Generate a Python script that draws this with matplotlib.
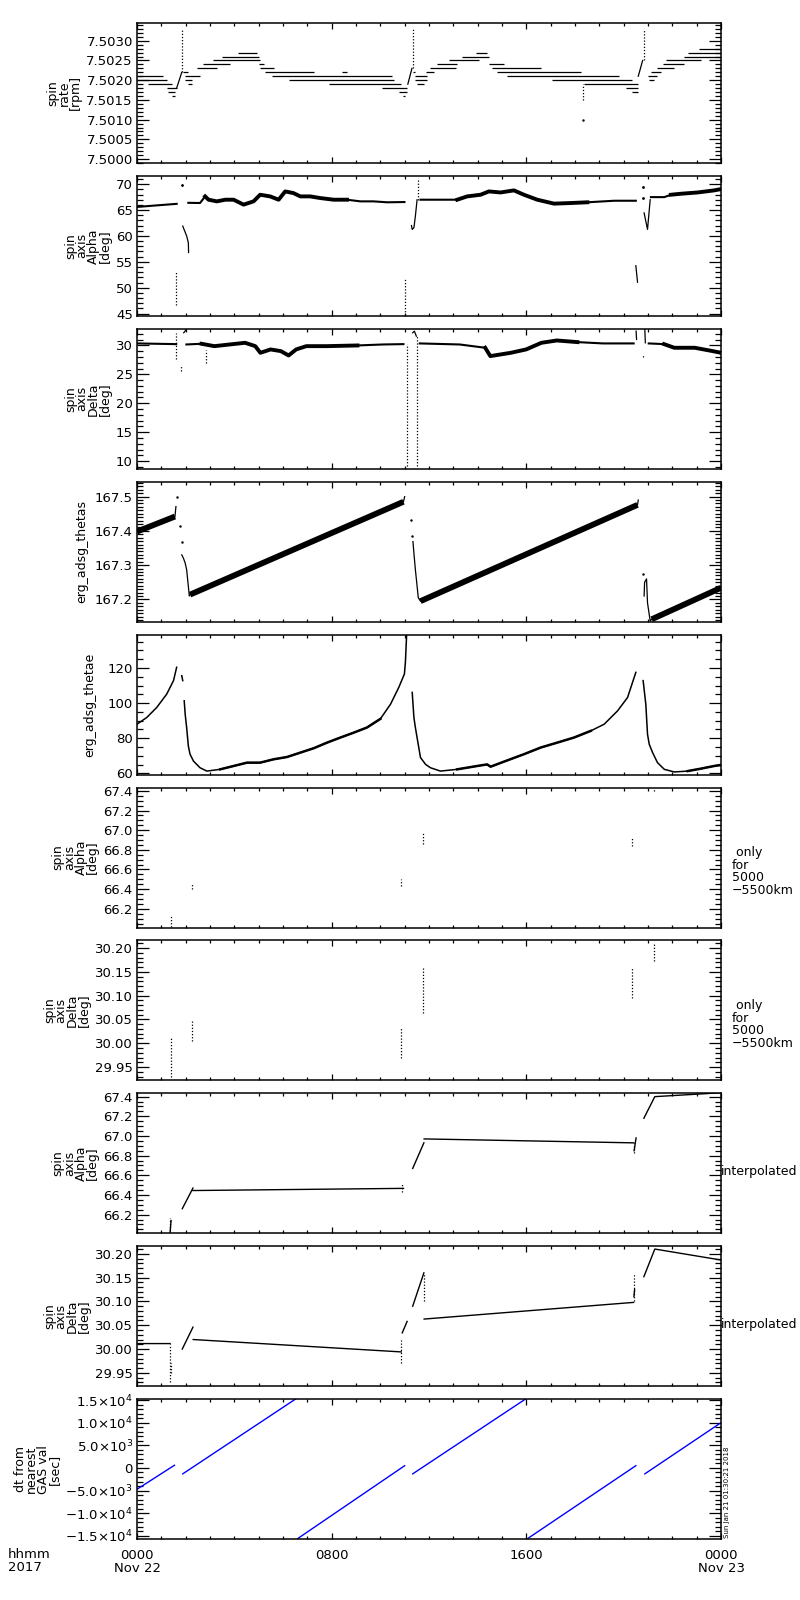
import numpy as np
import matplotlib
matplotlib.use("Agg")
import matplotlib.pyplot as plt
from matplotlib.ticker import MultipleLocator, FixedLocator, FuncFormatter

nan = np.nan

# ---- panel 1: spin rate, quantised horizontal runs (level, t_start, t_end) ----
rate_lvl = [7.5021, 7.5020, 7.5019, 7.5018, 7.5017, 7.5016,
            7.5022, 7.5021, 7.5020, 7.5019, 7.5023, 7.5024, 7.5025, 7.5026, 7.5027,
            7.5024, 7.5023, 7.5022, 7.5022, 7.5021, 7.5020, 7.5019, 7.5018, 7.5017, 7.5016,
            7.5022, 7.5021, 7.5020, 7.5019, 7.5022, 7.5023, 7.5024, 7.5025, 7.5026, 7.5027,
            7.5024, 7.5023, 7.5022, 7.5021, 7.5020, 7.5019, 7.5018, 7.5017,
            7.5021, 7.5022, 7.5020, 7.5023, 7.5024, 7.5025, 7.5026, 7.5027, 7.5028]
rate_t0 = [0.0, 0.0, 0.47, 1.22, 1.29, 1.43,
           1.88, 1.98, 1.98, 2.11, 2.46, 2.73, 3.14, 3.49, 4.17,
           5.00, 5.06, 5.27, 8.42, 5.54, 6.23, 7.88, 10.07, 10.76, 10.95,
           11.34, 11.44, 11.44, 11.51, 11.86, 12.06, 12.34, 12.82, 13.37, 13.92,
           14.46, 14.60, 14.81, 15.22, 17.07, 18.38, 20.09, 20.36,
           20.98, 21.12, 21.05, 21.37, 21.60, 21.74, 22.49, 22.63, 23.11]
rate_t1 = [1.08, 1.22, 1.43, 1.63, 1.56, 1.56,
           2.11, 2.59, 2.25, 2.25, 3.28, 3.83, 5.06, 5.00, 4.93,
           5.20, 5.61, 7.26, 8.63, 10.49, 10.55, 10.83, 11.10, 11.10, 11.00,
           11.44, 11.92, 11.92, 11.79, 12.20, 13.09, 13.16, 14.05, 14.46, 14.39,
           15.08, 16.59, 18.24, 19.81, 20.36, 20.57, 20.57, 20.57,
           21.39, 21.53, 21.26, 22.08, 22.49, 23.18, 24.0, 24.0, 24.0]
rate_rise_t = [1.63, 1.84, nan, 11.13, 11.30, nan, 20.60, 20.78]
rate_rise_v = [7.5018, 7.5022, nan, 7.5019, 7.5023, nan, 7.5021, 7.5025]
rate_spike_t = [1.84, 11.34, 20.82, 18.33]
rate_spike_lo = [7.5022, 7.5023, 7.5025, 7.5015]
rate_spike_hi = [7.50327, 7.50330, 7.50330, 7.5019]
rate_dot_t = [18.33]
rate_dot_v = [7.5010]

# ---- panel 2: spin axis alpha ----
alpha_t = [0.0, 0.8, 1.63, nan, 2.11, 2.59, 2.80, 2.94, 3.28, 3.63, 3.97, 4.38, 4.79, 5.06,
           5.47, 5.82, 6.09, 6.43, 6.71, 7.12, 7.53, 8.08, 8.63, 9.18, 9.72, 10.28, 10.99, nan,
           11.65, 13.16, 13.57, 14.12, 14.46, 14.94, 15.49, 15.90, 16.45, 17.14, 17.83, 18.51,
           19.61, 20.50, nan, 21.12, 21.67, 21.94, 22.35, 23.04, 23.72, 24.0]
alpha_v = [65.6, 65.9, 66.2, nan, 66.4, 66.36, 67.64, 67.0, 66.68, 67.0, 67.0, 66.05, 66.68, 67.96,
           67.64, 67.0, 68.6, 68.28, 67.64, 67.64, 67.32, 67.0, 67.0, 66.68, 66.68, 66.5, 66.55, nan,
           67.0, 67.0, 67.64, 67.96, 68.6, 68.4, 68.8, 67.96, 67.0, 66.24, 66.36, 66.5,
           66.8, 66.8, nan, 67.5, 67.5, 67.96, 68.15, 68.4, 68.8, 69.05]
alpha_noisy = [(2.6, 8.7), (13.1, 18.6), (21.7, 24.0)]
alpha_dip_t = [1.88, 2.04, 2.11, 2.12, nan, 11.28, 11.31, 11.38, 11.44, 11.51, nan,
               20.50, 20.57, nan, 20.84, 20.98, 21.09]
alpha_dip_v = [61.9, 60.0, 58.7, 56.8, nan, 62.0, 61.26, 61.6, 63.8, 67.0, nan,
               54.25, 51.05, nan, 64.45, 61.26, 67.0]
alpha_vd_t = [1.60, 11.03, 11.53]
alpha_vd_lo = [46.6, 44.7, 67.0]
alpha_vd_hi = [53.3, 51.7, 71.1]
alpha_dot_t = [1.84, 20.80, 20.80]
alpha_dot_v = [69.9, 69.4, 67.3]

# ---- panel 3: spin axis delta ----
delta_t = [0.0, 1.61, nan, 2.03, 2.65, 3.18, 3.81, 4.44, 4.86, 5.07, 5.49, 5.91, 6.23, 6.54,
           6.96, 7.80, 9.06, 10.11, 10.95, nan, 11.62, 13.26, 14.31, 14.52, 15.36, 15.99,
           16.62, 17.25, 18.10, 19.15, 20.41, nan, 21.03, 21.66, 22.08, 22.92, 23.66, 24.0]
delta_v = [30.35, 30.23, nan, 30.17, 30.29, 29.88, 30.17, 30.46, 29.88, 28.73, 29.31, 29.02,
           28.27, 29.31, 29.88, 29.88, 30.0, 30.17, 30.23, nan, 30.35, 30.17, 29.6, 28.16,
           28.73, 29.31, 30.46, 30.86, 30.58, 30.35, 30.35, nan, 30.35, 30.23, 29.6, 29.6,
           29.02, 28.73]
delta_noisy = [(2.65, 9.5), (13.9, 18.6), (21.6, 24.0)]
delta_jump_t = [1.92, 2.03, nan, 11.33, 11.40, 11.48, nan, 20.51, 20.53, nan, 20.87, 20.89]
delta_jump_v = [32.19, 32.77, nan, 32.19, 32.48, 31.6, nan, 32.48, 31.04, nan, 32.77, 30.46]
delta_vd_t = [1.61, 1.82, 2.82, 11.08, 11.52, 20.78]
delta_vd_lo = [27.58, 25.56, 27.0, 9.14, 9.14, 28.0]
delta_vd_hi = [32.19, 26.43, 29.3, 30.2, 31.6, 28.3]

# ---- panel 4: erg_adsg_thetas ----
thetas_t = [0.0, 1.56, nan, 2.18, 10.95, nan, 11.65, 20.57, nan, 21.15, 24.0]
thetas_v = [167.398, 167.442, nan, 167.214, 167.485, nan, 167.195, 167.476, nan, 167.142, 167.234]
thetas_ev_t = [1.56, 1.60, nan, 1.84, 1.91, 1.98, 2.04, 2.15, 2.18, nan, 10.95, 11.0, nan,
               11.34, 11.38, 11.44, 11.56, 11.65, nan, 20.57, 20.60, nan,
               20.84, 20.86, 20.94, 20.98, 21.09, 21.15]
thetas_ev_v = [167.442, 167.471, nan, 167.33, 167.32, 167.306, 167.287, 167.21, 167.214, nan,
               167.485, 167.50, nan, 167.369, 167.335, 167.287, 167.205, 167.195, nan,
               167.476, 167.49, nan, 167.21, 167.25, 167.26, 167.19, 167.137, 167.142]
thetas_dot_t = [1.64, 1.77, 1.84, 11.28, 11.31, 20.80]
thetas_dot_v = [167.50, 167.413, 167.369, 167.432, 167.384, 167.274]

# ---- panel 5: erg_adsg_thetae ----
thetae_t = [0.0, 0.40, 0.81, 1.22, 1.50, 1.63, nan, 1.84, 1.88, nan, 1.94, 1.98, 2.04, 2.11,
            2.18, 2.32, 2.59, 2.87, 3.42, 3.97, 4.52, 5.06, 5.61, 6.16, 6.71, 7.26, 7.81, 8.36,
            8.91, 9.45, 10.0, 10.42, 10.76, 10.99, 11.03, 11.07, 11.08, nan, 11.31, 11.38, 11.44,
            11.58, 11.65, 11.86, 12.06, 12.47, 13.16, 13.98, 14.39, 14.53, 15.22, 15.90, 16.59,
            17.27, 17.96, 18.65, 19.20, 19.75, 20.16, 20.50, nan, 20.80, 20.91, 20.98, 21.05,
            21.19, 21.39, 21.67, 22.08, 22.63, 23.18, 23.72, 24.0]
thetae_v = [88.0, 91.8, 97.5, 105.1, 112.8, 120.4, nan, 115.6, 112.8, nan, 101.3, 93.7, 86.1, 75.6,
            70.9, 67.0, 63.2, 61.3, 62.3, 64.2, 66.1, 66.1, 68.0, 69.3, 71.8, 74.3, 77.5, 80.4,
            83.2, 86.1, 91.0, 99.4, 109.0, 116.6, 123.2, 135.6, 139.0, nan, 106.1, 91.8, 86.1,
            74.7, 69.0, 65.1, 63.2, 61.3, 62.3, 64.2, 65.1, 63.8, 67.4, 70.9, 74.7,
            77.5, 80.4, 84.2, 88.0, 95.6, 103.2, 117.5, nan, 112.8, 99.4, 82.3, 76.6,
            71.8, 66.1, 62.3, 60.8, 61.3, 62.7, 64.2, 64.8]
thetae_noisy = [(3.0, 10.0), (12.5, 19.0), (22.5, 24.0)]

# ---- panels 6/7: spin axis only for 5000-5500 km (short dotted clusters) ----
alpha5k_t = [1.39, 2.28, 10.84, 11.76, 20.34, 21.26]
alpha5k_lo = [66.02, 66.40, 66.43, 66.856, 66.84, 67.40]
alpha5k_hi = [66.14, 66.45, 66.50, 66.975, 66.93, 67.42]
delta5k_t = [1.39, 2.28, 10.84, 11.76, 20.34, 21.26]
delta5k_lo = [29.93, 30.004, 29.97, 30.063, 30.095, 30.172]
delta5k_hi = [30.014, 30.046, 30.035, 30.158, 30.158, 30.21]

# ---- panels 8/9: interpolated ----
alphai_t = [1.36, 1.40, nan, 1.86, 2.30, nan, 2.31, 10.95, nan, 11.33, 11.79, nan, 11.80, 20.41,
            nan, 20.43, 20.51, nan, 20.83, 21.28, 23.34, 24.0]
alphai_v = [66.02, 66.14, nan, 66.26, 66.47, nan, 66.445, 66.467, nan, 66.67, 66.93, nan, 66.97,
            66.93, nan, 66.85, 66.98, nan, 67.18, 67.40, 67.43, 67.44]
alphai_vd_t = [1.36, 10.90, 20.41]
alphai_vd_lo = [66.0, 66.43, 66.83]
alphai_vd_hi = [66.17, 66.51, 66.93]
deltai_t = [0.0, 1.36, nan, 1.86, 2.30, nan, 2.31, 10.86, nan, 10.90, 11.10, nan, 11.33, 11.79,
            nan, 11.80, 20.41, nan, 20.42, 20.45, nan, 20.83, 21.28, 24.0]
deltai_v = [30.0115, 30.0115, nan, 30.000, 30.046, nan, 30.020, 29.994, nan, 30.034, 30.058, nan,
            30.090, 30.160, nan, 30.063, 30.098, nan, 30.110, 30.125, nan, 30.152, 30.21, 30.187]
deltai_vd_t = [1.36, 1.40, 10.86, 11.79, 20.41]
deltai_vd_lo = [29.93, 29.95, 29.97, 30.10, 30.10]
deltai_vd_hi = [30.01, 29.97, 30.02, 30.16, 30.16]

# ---- panel 10: dt from nearest GAS val ----
dt_t = [0.0, 1.54, nan, 1.88, 6.54, nan, 6.60, 11.0, nan, 11.33, 15.99, nan, 16.05, 20.5, nan,
        20.87, 24.0]
dt_v = [-4700, 600, nan, -1300, 15300, nan, -15600, 500, nan, -1300, 15300, nan, -15600, 500, nan,
        -1300, 10000]

# ---- layout ----
W, H = 800, 1600
X0, X1 = 137, 721
TOP0, STEP, PH = 23, 152.9, 140

fig = plt.figure(figsize=(W / 100, H / 100), dpi=100)
plt.rcParams['font.family'] = ['DejaVu Sans']
FS = 9.5


def make_ax(i):
    top = TOP0 + STEP * i
    ax = fig.add_axes([X0 / W, 1 - (top + PH) / H, (X1 - X0) / W, PH / H])
    ax.set_xlim(0, 24)
    ax.xaxis.set_major_locator(MultipleLocator(8))
    ax.xaxis.set_minor_locator(MultipleLocator(1))
    ax.tick_params(which='both', direction='in', top=True, right=True, labelsize=FS, width=0.9)
    ax.tick_params(axis='y', which='major', length=8.5, pad=3)
    ax.tick_params(axis='y', which='minor', length=4.3)
    ax.tick_params(axis='x', which='major', length=4)
    ax.tick_params(axis='x', which='minor', length=2)
    ax.tick_params(axis='x', labelbottom=False)
    for s in ax.spines.values():
        s.set_linewidth(1.1)
    return ax


def ylab(ax, text, pad=3):
    ax.set_ylabel(text, fontsize=9, linespacing=0.85, labelpad=pad)


def vdots(ax, t, lo, hi, color='k'):
    for ti, a, b in zip(t, lo, hi):
        ax.plot([ti, ti], [a, b], ls=(0, (1, 1.5)), color=color, lw=0.9)


def noisy_overlay(ax, t, v, windows, lw):
    t = np.array(t)
    v = np.array(v)
    for a, b in windows:
        m = (t >= a) & (t <= b)
        ax.plot(t[m], v[m], color='k', lw=lw)


# panel 1
ax = make_ax(0)
ax.hlines(rate_lvl, rate_t0, rate_t1, color='k', lw=0.9)
ax.plot(rate_rise_t, rate_rise_v, color='k', lw=0.9)
vdots(ax, rate_spike_t, rate_spike_lo, rate_spike_hi)
ax.plot(rate_dot_t, rate_dot_v, 'k.', ms=1.5)
ax.set_ylim(7.4999, 7.50345)
ax.yaxis.set_major_locator(MultipleLocator(0.0005))
ax.yaxis.set_minor_locator(MultipleLocator(0.0001))
ax.yaxis.set_major_formatter(FuncFormatter(lambda y, p: f'{y:.4f}'))
ylab(ax, 'spin\nrate\n[rpm]')

# panel 2
ax = make_ax(1)
ax.plot(alpha_t, alpha_v, color='k', lw=1.5)
noisy_overlay(ax, alpha_t, alpha_v, alpha_noisy, 2.8)
ax.plot(alpha_dip_t, alpha_dip_v, color='k', lw=0.9)
vdots(ax, alpha_vd_t, alpha_vd_lo, alpha_vd_hi)
ax.plot(alpha_dot_t, alpha_dot_v, 'k.', ms=2)
ax.set_ylim(44.55, 71.6)
ax.yaxis.set_major_locator(MultipleLocator(5))
ax.yaxis.set_minor_locator(MultipleLocator(1))
ax.yaxis.set_major_formatter(FuncFormatter(lambda y, p: f'{y:.0f}'))
ylab(ax, 'spin\naxis\nAlpha\n[deg]')

# panel 3
ax = make_ax(2)
ax.plot(delta_t, delta_v, color='k', lw=1.5)
noisy_overlay(ax, delta_t, delta_v, delta_noisy, 2.8)
ax.plot(delta_jump_t, delta_jump_v, color='k', lw=0.9)
vdots(ax, delta_vd_t, delta_vd_lo, delta_vd_hi)
ax.set_ylim(8.67, 32.88)
ax.yaxis.set_major_locator(MultipleLocator(5))
ax.yaxis.set_minor_locator(MultipleLocator(1))
ax.yaxis.set_major_formatter(FuncFormatter(lambda y, p: f'{y:.0f}'))
ylab(ax, 'spin\naxis\nDelta\n[deg]')

# panel 4
ax = make_ax(3)
ax.plot(thetas_t, thetas_v, color='k', lw=4.2, solid_capstyle='butt')
ax.plot(thetas_ev_t, thetas_ev_v, color='k', lw=0.9)
ax.plot(thetas_dot_t, thetas_dot_v, 'k.', ms=1.5)
ax.set_ylim(167.135, 167.5436)
ax.yaxis.set_major_locator(MultipleLocator(0.1))
ax.yaxis.set_minor_locator(MultipleLocator(0.01))
ax.yaxis.set_major_formatter(FuncFormatter(lambda y, p: f'{y:.1f}'))
ylab(ax, 'erg_adsg_thetas', pad=5)

# panel 5
ax = make_ax(4)
ax.plot(thetae_t, thetae_v, color='k', lw=1.1)
noisy_overlay(ax, thetae_t, thetae_v, thetae_noisy, 1.8)
ax.set_ylim(59.3, 139)
ax.yaxis.set_major_locator(MultipleLocator(20))
ax.yaxis.set_minor_locator(MultipleLocator(5))
ax.yaxis.set_major_formatter(FuncFormatter(lambda y, p: f'{y:.0f}'))
ylab(ax, 'erg_adsg_thetae', pad=8)

alpha_lim = (66.01, 67.434)
delta_lim = (29.922, 30.216)


def alpha_axis(ax):
    ax.set_ylim(*alpha_lim)
    ax.yaxis.set_major_locator(FixedLocator([66.2, 66.4, 66.6, 66.8, 67.0, 67.2, 67.4]))
    ax.yaxis.set_minor_locator(MultipleLocator(0.05))
    ax.yaxis.set_major_formatter(FuncFormatter(lambda y, p: f'{y:.1f}'))
    ylab(ax, 'spin\naxis\nAlpha\n[deg]')


def delta_axis(ax):
    ax.set_ylim(*delta_lim)
    ax.yaxis.set_major_locator(FixedLocator([29.95, 30.0, 30.05, 30.10, 30.15, 30.20]))
    ax.yaxis.set_minor_locator(MultipleLocator(0.01))
    ax.yaxis.set_major_formatter(FuncFormatter(lambda y, p: f'{y:.2f}'))
    ylab(ax, 'spin\naxis\nDelta\n[deg]')


def right_note(i, text, x, dy):
    yc = TOP0 + STEP * i + PH / 2 + dy
    fig.text(x / W, 1 - yc / H, text, ha='left', va='center', fontsize=9, linespacing=0.95)


# panel 6
ax = make_ax(5)
vdots(ax, alpha5k_t, alpha5k_lo, alpha5k_hi)
alpha_axis(ax)
right_note(5, ' only\nfor\n5000\n\u22125500km', 732, 14)

# panel 7
ax = make_ax(6)
vdots(ax, delta5k_t, delta5k_lo, delta5k_hi)
delta_axis(ax)
right_note(6, ' only\nfor\n5000\n\u22125500km', 732, 14)

# panel 8
ax = make_ax(7)
ax.plot(alphai_t, alphai_v, color='k', lw=1.0)
vdots(ax, alphai_vd_t, alphai_vd_lo, alphai_vd_hi)
alpha_axis(ax)
right_note(7, 'interpolated', 721, 8)

# panel 9
ax = make_ax(8)
ax.plot(deltai_t, deltai_v, color='k', lw=1.0)
vdots(ax, deltai_vd_t, deltai_vd_lo, deltai_vd_hi)
delta_axis(ax)
right_note(8, 'interpolated', 721, 8)

# panel 10
ax = make_ax(9)
ax.plot(dt_t, dt_v, color='#0000ff', lw=1.0)
ax.set_ylim(-15700, 15200)
ax.yaxis.set_major_locator(MultipleLocator(5000))
ax.yaxis.set_minor_locator(MultipleLocator(1000))
dt_labels = {-15000: r'$-$1.5$\times$10$^4$', -10000: r'$-$1.0$\times$10$^4$',
             -5000: r'$-$5.0$\times$10$^3$', 0: '0', 5000: r'5.0$\times$10$^3$',
             10000: r'1.0$\times$10$^4$', 15000: r'1.5$\times$10$^4$'}
ax.yaxis.set_major_formatter(FuncFormatter(lambda y, p: dt_labels.get(int(round(y)), '')))
ylab(ax, 'dt from\nnearest\nGAS val\n[sec]')
ax.tick_params(axis='x', labelbottom=True, pad=7)
ax.set_xticks([0, 8, 16, 24])
ax.set_xticklabels(['0000\nNov 22', '0800', '1600', '0000\nNov 23'], fontsize=FS,
                   linespacing=1.0, va='top')

fig.text(8 / W, 1 - 1548 / H, 'hhmm\n2017', ha='left', va='top', fontsize=FS, linespacing=1.0)
fig.text(727 / W, 1 - 1538 / H, 'Sun Jan 21 01:30:21 2018', rotation=90, ha='center',
         va='bottom', fontsize=5)

fig.savefig('out.png', dpi=100)
